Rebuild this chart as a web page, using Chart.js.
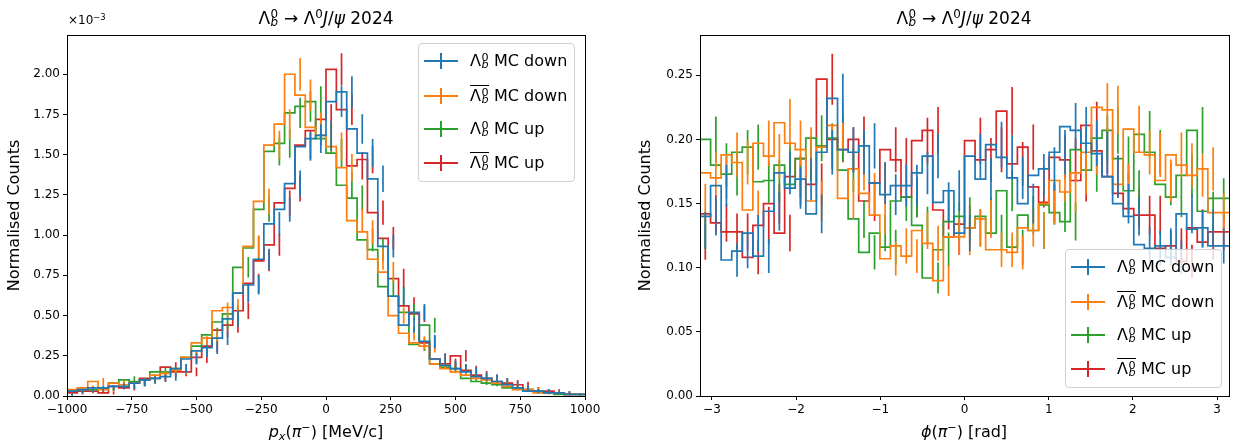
<!DOCTYPE html>
<html lang="en">
<head>
<meta charset="UTF-8">
<title>Lambda_b px / phi 2024</title>
<script src="https://cdn.jsdelivr.net/npm/chart.js"></script>
<style>
  body { margin: 0; background: #fff; font-family: "DejaVu Sans", sans-serif; color: #000; }
  #wrap { position: relative; width: 1241px; height: 445px; overflow: hidden; }
  canvas { position: absolute; top: 0; }
  .txt { position: absolute; white-space: nowrap; transform: translate(-50%, -50%); line-height: 1; }
  .title { font-size: 17px; }
  .xlab { font-size: 16px; }
  .ss { position: relative; display: inline-block; width: 0.5em; height: 0; }
  .ss .sp { position: absolute; left: 0.04em; bottom: 0.27em; font-size: 0.7em; line-height: 1; font-style: normal; }
  .ss .sb { position: absolute; left: 0.04em; bottom: -0.4em; font-size: 0.7em; line-height: 1; font-style: italic; }
  sup { font-size: 0.7em; vertical-align: 0.5em; line-height: 0; }
  sub { font-size: 0.7em; vertical-align: -0.3em; line-height: 0; }
  .ov { position: relative; display: inline-block; line-height: 1; }
  .ov::before { content: ''; position: absolute; left: 0; right: 0; top: -3px; border-top: 1.2px solid #000; }
  .legend { position: absolute; width: 157px; height: 139px; border: 1px solid #d0d0d0; border-radius: 4px;
            background: rgba(255,255,255,0.8); box-sizing: border-box; }
  .row { position: absolute; left: 0; right: 0; height: 0; }
  .handle { position: absolute; left: 5px; top: -8px; width: 34px; height: 16px; }
  .handle::before { content: ''; position: absolute; left: 0; right: 0; top: 7px; height: 1.7px; background: var(--c); }
  .handle::after { content: ''; position: absolute; left: 16px; top: 0; bottom: 0; width: 1.7px; background: var(--c); }
  .lab { position: absolute; left: 51px; top: 0; transform: translateY(-50%); font-size: 16px; white-space: nowrap; line-height: 1; }
  .offset { position: absolute; left: 68px; top: 13px; font-size: 12px; }
</style>
</head>
<body>
<div id="wrap">
  <canvas id="pxChart" width="620" height="445" style="left:0"></canvas>
  <canvas id="phiChart" width="621" height="445" style="left:620px"></canvas>

  <div class="txt title" style="left:326px; top:18px">Λ<span class="ss"><span class="sp">0</span><span class="sb">b</span></span> → Λ<sup>0</sup><i>J</i>/<i>ψ</i> 2024</div>
  <div class="txt title" style="left:964px; top:18px">Λ<span class="ss"><span class="sp">0</span><span class="sb">b</span></span> → Λ<sup>0</sup><i>J</i>/<i>ψ</i> 2024</div>
  <div class="txt xlab" style="left:326px; top:432px"><i>p</i><sub><i>x</i></sub>(<i>π</i><sup>−</sup>) [MeV/c]</div>
  <div class="txt xlab" style="left:964px; top:432px"><i>ϕ</i>(<i>π</i><sup>−</sup>) [rad]</div>
  <div class="offset">×10<sup>−3</sup></div>

  <div class="legend" id="legLeft" style="left:418px; top:43px"></div>
  <div class="legend" id="legRight" style="left:1065px; top:249px"></div>
</div>

<script>
    // series order: Lb MC down, Lb-bar MC down, Lb MC up, Lb-bar MC up
    const seriesNames = ["MC down", "MC down", "MC up", "MC up"];
    const seriesBar = [false, true, false, true];
    const colors = ["#1f77b4", "#ff7f0e", "#2ca02c", "#d62728"];

    // left panel: p_x(pi-) in MeV/c, 50 bins, normalised counts x 1e-3
    const pxRange = [-1000, 1000];
    const pxTicks = [-1000, -750, -500, -250, 0, 250, 500, 750, 1000];
    const pxYTicks = [0, 0.25, 0.5, 0.75, 1.0, 1.25, 1.5, 1.75, 2.0];
    const pxYMax = 2.244;
    const pxErrAtOne = 0.071; // error bar half length at 1.0e-3 (poisson scaling)

    const pxDown = [0.01, 0.03, 0.04, 0.05, 0.05, 0.06, 0.06, 0.08, 0.10, 0.11,
                    0.12, 0.17, 0.23, 0.28, 0.30, 0.36, 0.48, 0.64, 0.69, 0.85,
                    1.07, 1.16, 1.32, 1.55, 1.60, 1.62, 1.83, 1.89, 1.66, 1.51,
                    1.35, 0.93, 0.62, 0.44, 0.52, 0.34, 0.23, 0.19, 0.17, 0.15,
                    0.12, 0.11, 0.09, 0.07, 0.05, 0.03, 0.03, 0.02, 0.02, 0.01];
    const pxBarDown = [0.01, 0.04, 0.05, 0.09, 0.04, 0.08, 0.07, 0.08, 0.10, 0.13,
                       0.14, 0.16, 0.24, 0.33, 0.36, 0.53, 0.55, 0.64, 0.93, 1.21,
                       1.56, 1.69, 2.00, 1.87, 1.67, 1.62, 1.55, 1.42, 1.09, 1.02,
                       0.85, 0.77, 0.50, 0.39, 0.33, 0.31, 0.20, 0.17, 0.15, 0.13,
                       0.11, 0.10, 0.08, 0.06, 0.04, 0.04, 0.02, 0.02, 0.02, 0.01];
    const pxUp = [0.01, 0.03, 0.04, 0.04, 0.05, 0.08, 0.10, 0.09, 0.10, 0.15,
                  0.15, 0.17, 0.24, 0.31, 0.38, 0.46, 0.51, 0.80, 0.92, 1.16,
                  1.52, 1.57, 1.76, 1.80, 1.83, 1.60, 1.51, 1.31, 1.23, 0.97,
                  0.91, 0.68, 0.62, 0.52, 0.32, 0.44, 0.20, 0.18, 0.17, 0.11,
                  0.09, 0.08, 0.07, 0.05, 0.05, 0.04, 0.03, 0.02, 0.01, 0.01];
    const pxBarUp = [0.01, 0.02, 0.03, 0.03, 0.02, 0.06, 0.05, 0.08, 0.11, 0.11,
                     0.18, 0.15, 0.15, 0.24, 0.31, 0.41, 0.44, 0.53, 0.70, 0.84,
                     0.94, 1.20, 1.29, 1.56, 1.65, 1.72, 2.03, 1.78, 1.43, 1.47,
                     1.14, 0.98, 0.73, 0.56, 0.51, 0.33, 0.23, 0.20, 0.25, 0.16,
                     0.13, 0.11, 0.09, 0.08, 0.07, 0.04, 0.03, 0.03, 0.02, 0.01];

    // right panel: phi(pi-) in rad, 50 bins
    const phiRange = [-Math.PI, Math.PI];
    const phiTicks = [-3, -2, -1, 0, 1, 2, 3];
    const phiYTicks = [0, 0.05, 0.10, 0.15, 0.20, 0.25];
    const phiYMax = 0.2814;
    const phiErrAtOne = 0.040;

    const phiDown = [0.129, 0.140, 0.164, 0.106, 0.113, 0.127, 0.109, 0.144, 0.174, 0.162,
                     0.169, 0.142, 0.190, 0.232, 0.192, 0.190, 0.195, 0.166, 0.157, 0.164,
                     0.164, 0.174, 0.187, 0.151, 0.160, 0.127, 0.187, 0.169, 0.196, 0.186,
                     0.170, 0.150, 0.172, 0.177, 0.190, 0.210, 0.207, 0.197, 0.189, 0.171,
                     0.150, 0.140, 0.118, 0.115, 0.117, 0.108, 0.142, 0.130, 0.131, 0.117];
    const phiBarDown = [0.150, 0.174, 0.170, 0.188, 0.182, 0.145, 0.197, 0.187, 0.213, 0.197,
                        0.192, 0.152, 0.194, 0.211, 0.154, 0.177, 0.158, 0.141, 0.107, 0.117,
                        0.109, 0.129, 0.119, 0.090, 0.124, 0.124, 0.131, 0.138, 0.114, 0.114,
                        0.112, 0.131, 0.129, 0.150, 0.168, 0.159, 0.174, 0.190, 0.225, 0.223,
                        0.165, 0.208, 0.190, 0.188, 0.168, 0.188, 0.180, 0.172, 0.177, 0.143];
    const phiUp = [0.129, 0.200, 0.180, 0.173, 0.190, 0.194, 0.167, 0.168, 0.180, 0.165,
                   0.185, 0.201, 0.195, 0.201, 0.176, 0.138, 0.112, 0.127, 0.116, 0.152,
                   0.155, 0.133, 0.092, 0.114, 0.136, 0.140, 0.131, 0.140, 0.127, 0.160,
                   0.116, 0.141, 0.129, 0.149, 0.143, 0.136, 0.192, 0.176, 0.201, 0.207,
                   0.185, 0.160, 0.204, 0.190, 0.165, 0.155, 0.172, 0.207, 0.144, 0.154];
    const phiBarUp = [0.120, 0.142, 0.135, 0.128, 0.128, 0.108, 0.133, 0.150, 0.127, 0.171,
                      0.185, 0.165, 0.247, 0.200, 0.192, 0.200, 0.152, 0.166, 0.192, 0.184,
                      0.155, 0.199, 0.207, 0.145, 0.124, 0.134, 0.199, 0.184, 0.192, 0.222,
                      0.181, 0.194, 0.163, 0.151, 0.186, 0.184, 0.168, 0.211, 0.191, 0.171,
                      0.158, 0.146, 0.141, 0.141, 0.115, 0.117, 0.105, 0.131, 0.120, 0.128];

    const FONT = "'DejaVu Sans', sans-serif";
    const minus = s => String(s).replace("-", "\u2212");

    // histogram as step line through the bin edges
    function stepDataset(values, range, color, errK) {
        const w = (range[1] - range[0]) / values.length;
        const pts = values.map((v, i) => ({ x: range[0] + i * w, y: v }));
        pts.push({ x: range[1], y: values[values.length - 1] });
        return {
            data: pts, stepped: "after", borderColor: color, borderWidth: 1.7,
            pointRadius: 0, fill: false, binValues: values, lo: range[0], w: w, errK: errK
        };
    }

    const errorBars = {
        id: "errorBars",
        afterDatasetDraw(chart, args) {
            const ds = chart.data.datasets[args.index];
            const xs = chart.scales.x, ys = chart.scales.y, a = chart.chartArea;
            const ctx = chart.ctx;
            ctx.save();
            ctx.beginPath();
            ctx.rect(a.left, a.top, a.right - a.left, a.bottom - a.top);
            ctx.clip();
            ctx.strokeStyle = ds.borderColor;
            ctx.lineWidth = 1.7;
            ctx.beginPath();
            ds.binValues.forEach((v, i) => {
                const e = ds.errK * Math.sqrt(v);
                const px = xs.getPixelForValue(ds.lo + (i + 0.5) * ds.w);
                ctx.moveTo(px, ys.getPixelForValue(v - e));
                ctx.lineTo(px, ys.getPixelForValue(v + e));
            });
            ctx.stroke();
            ctx.restore();
        }
    };

    const frame = {
        id: "frame",
        afterDraw(chart) {
            const a = chart.chartArea, ctx = chart.ctx;
            ctx.save();
            ctx.strokeStyle = "#000";
            ctx.lineWidth = 1;
            ctx.strokeRect(Math.round(a.left) + 0.5, Math.round(a.top) + 0.5,
                           Math.round(a.right - a.left), Math.round(a.bottom - a.top));
            ctx.restore();
        }
    };

    function makeChart(id, range, xTicks, yTicks, yMax, series, errK, axisWidth, padRight, titlePad) {
        const ctx = document.getElementById(id).getContext("2d");
        return new Chart(ctx, {
            type: "line",
            data: { datasets: series.map((s, i) => stepDataset(s, range, colors[i], errK)) },
            options: {
                responsive: false,
                animation: false,
                devicePixelRatio: 1,
                layout: { padding: { left: 0, right: padRight, top: 35, bottom: 0 } },
                plugins: { legend: { display: false }, tooltip: { enabled: false } },
                scales: {
                    x: {
                        type: "linear", min: range[0], max: range[1],
                        afterBuildTicks: sc => { sc.ticks = xTicks.map(v => ({ value: v })); },
                        afterFit: sc => { sc.height = 49; },
                        grid: { drawOnChartArea: false, drawTicks: true, tickLength: 4, tickColor: "#000" },
                        border: { display: false },
                        ticks: { color: "#000", padding: 3, maxRotation: 0, autoSkip: false,
                                 font: { family: FONT, size: 12 }, callback: v => minus(v) }
                    },
                    y: {
                        min: 0, max: yMax,
                        afterBuildTicks: sc => { sc.ticks = yTicks.map(v => ({ value: v })); },
                        afterFit: sc => { sc.width = axisWidth; },
                        grid: { drawOnChartArea: false, drawTicks: true, tickLength: 4, tickColor: "#000" },
                        border: { display: false },
                        ticks: { color: "#000", padding: 3, autoSkip: false,
                                 font: { family: FONT, size: 12 }, callback: v => v.toFixed(2) },
                        title: { display: true, text: "Normalised Counts", color: "#000",
                                 font: { family: FONT, size: 16 }, padding: { top: titlePad, bottom: 0 } }
                    }
                }
            },
            plugins: [errorBars, frame]
        });
    }

    makeChart("pxChart", pxRange, pxTicks, pxYTicks, pxYMax,
              [pxDown, pxBarDown, pxUp, pxBarUp], pxErrAtOne, 67, 35, 5);
    makeChart("phiChart", phiRange, phiTicks, phiYTicks, phiYMax,
              [phiDown, phiBarDown, phiUp, phiBarUp], phiErrAtOne, 80, 12, 16);

    // legends with math labels
    const rowTops = [17, 52, 85, 119];
    function buildLegend(id) {
        const box = document.getElementById(id);
        seriesNames.forEach((name, i) => {
            let sym = 'Λ<span class="ss"><span class="sp">0</span><span class="sb">b</span></span>';
            if (seriesBar[i]) sym = '<span class="ov">' + sym + '</span>';
            const row = document.createElement("div");
            row.className = "row";
            row.style.top = rowTops[i] + "px";
            row.innerHTML = '<span class="handle" style="--c:' + colors[i] + '"></span>' +
                            '<span class="lab">' + sym + ' ' + name + '</span>';
            box.appendChild(row);
        });
    }
    buildLegend("legLeft");
    buildLegend("legRight");
</script>
</body>
</html>
